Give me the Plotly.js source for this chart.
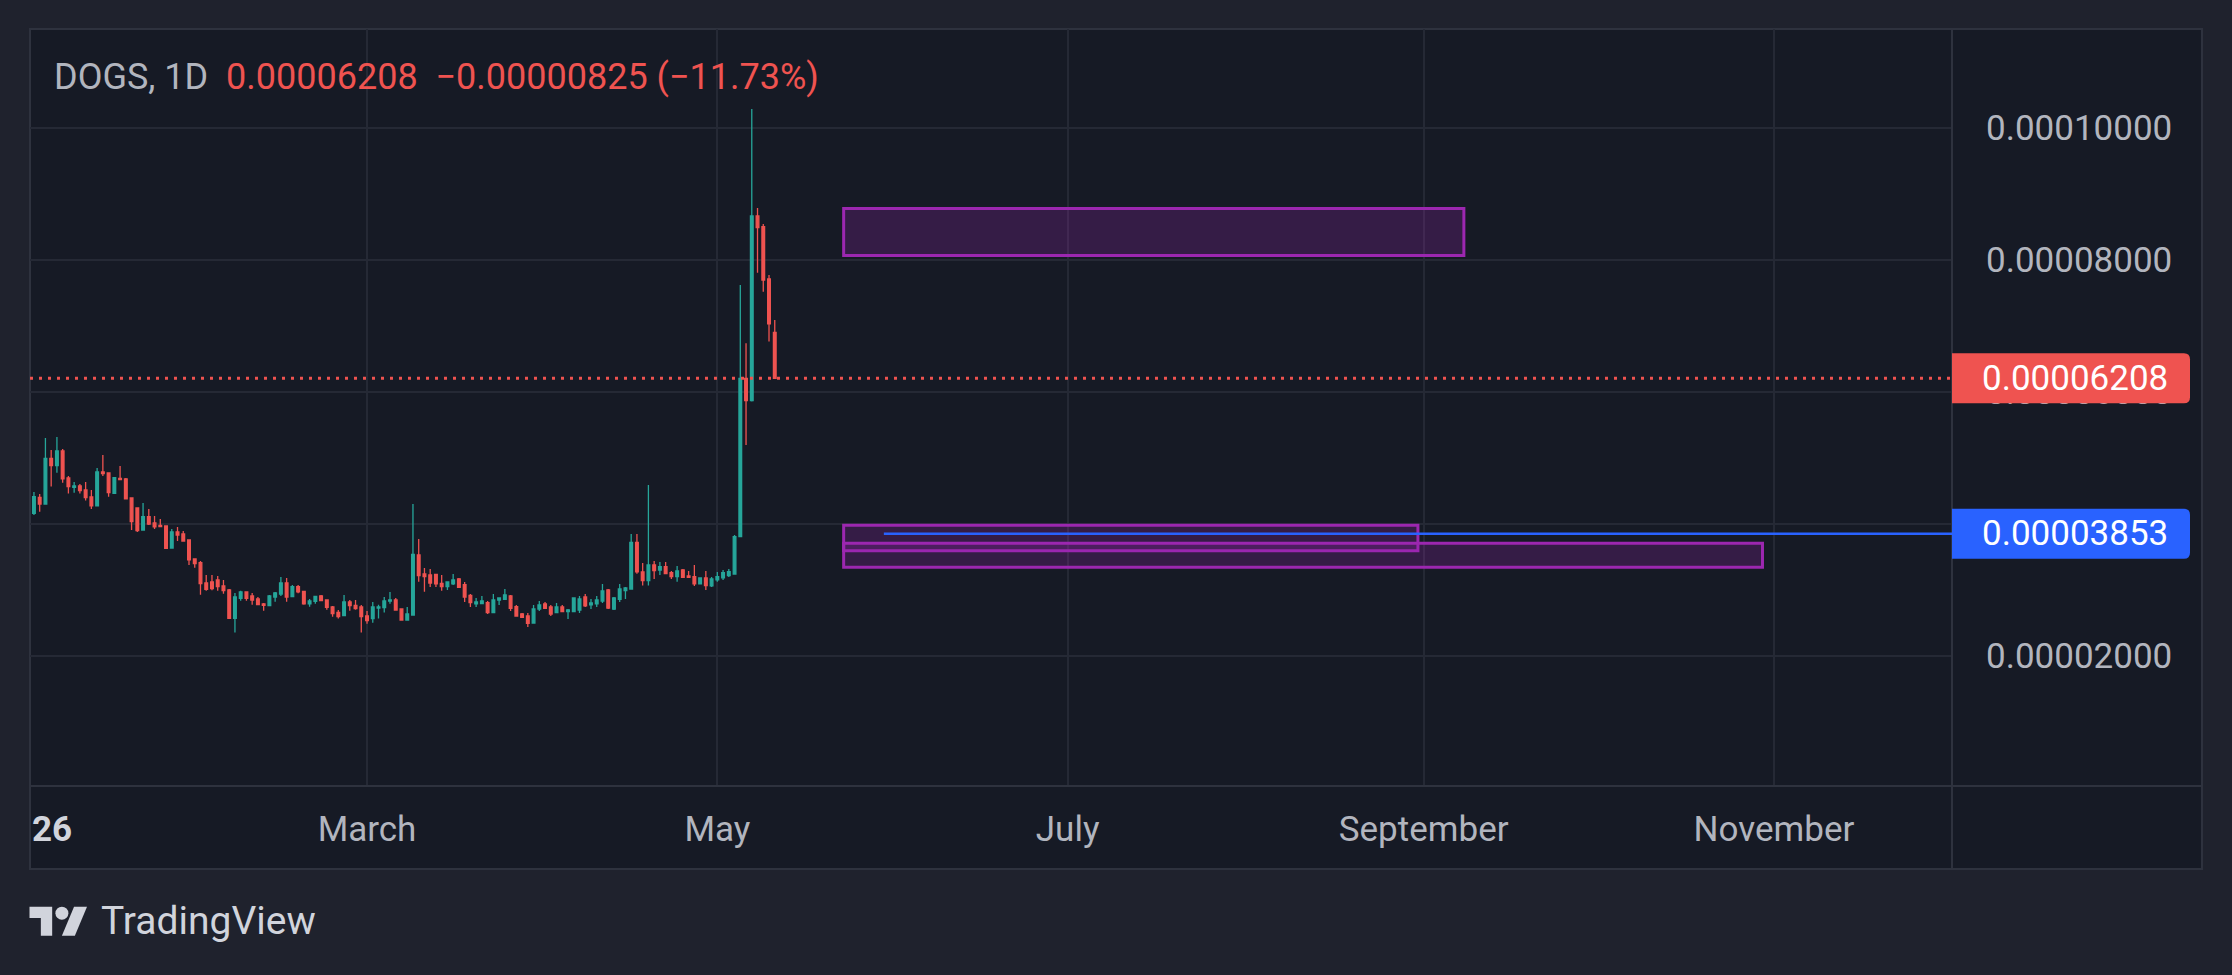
<!DOCTYPE html>
<html>
<head>
<meta charset="utf-8">
<script src="https://cdn.plot.ly/plotly-3.0.1.min.js"></script>
<style>
html,body{margin:0;padding:0;background:#1f222d;overflow:hidden}
#chart{width:2232px;height:975px}
</style>
</head>
<body>
<div id="chart"></div>
<script>
// ---------------- DATA ----------------
const symbol = 'DOGS';
const interval = '1D';

const dates = [
'2026-01-02','2026-01-03','2026-01-04','2026-01-05','2026-01-06','2026-01-07','2026-01-08','2026-01-09','2026-01-10','2026-01-11',
'2026-01-12','2026-01-13','2026-01-14','2026-01-15','2026-01-16','2026-01-17','2026-01-18','2026-01-19','2026-01-20','2026-01-21',
'2026-01-22','2026-01-23','2026-01-24','2026-01-25','2026-01-26','2026-01-27','2026-01-28','2026-01-29','2026-01-30','2026-01-31',
'2026-02-01','2026-02-02','2026-02-03','2026-02-04','2026-02-05','2026-02-06','2026-02-07','2026-02-08','2026-02-09','2026-02-10',
'2026-02-11','2026-02-12','2026-02-13','2026-02-14','2026-02-15','2026-02-16','2026-02-17','2026-02-18','2026-02-19','2026-02-20',
'2026-02-21','2026-02-22','2026-02-23','2026-02-24','2026-02-25','2026-02-26','2026-02-27','2026-02-28',
'2026-03-01','2026-03-02','2026-03-03','2026-03-04','2026-03-05','2026-03-06','2026-03-07','2026-03-08','2026-03-09','2026-03-10',
'2026-03-11','2026-03-12','2026-03-13','2026-03-14','2026-03-15','2026-03-16','2026-03-17','2026-03-18','2026-03-19','2026-03-20',
'2026-03-21','2026-03-22','2026-03-23','2026-03-24','2026-03-25','2026-03-26','2026-03-27','2026-03-28','2026-03-29','2026-03-30','2026-03-31',
'2026-04-01','2026-04-02','2026-04-03','2026-04-04','2026-04-05','2026-04-06','2026-04-07','2026-04-08','2026-04-09','2026-04-10',
'2026-04-11','2026-04-12','2026-04-13','2026-04-14','2026-04-15','2026-04-16','2026-04-17','2026-04-18','2026-04-19','2026-04-20',
'2026-04-21','2026-04-22','2026-04-23','2026-04-24','2026-04-25','2026-04-26','2026-04-27','2026-04-28','2026-04-29','2026-04-30',
'2026-05-01','2026-05-02','2026-05-03','2026-05-04','2026-05-05','2026-05-06','2026-05-07','2026-05-08','2026-05-09','2026-05-10','2026-05-11'
];

const open = [
4.162e-5,4.404e-5,4.303e-5,4.995e-5,4.884e-5,5.106e-5,4.697e-5,4.556e-5,4.576e-5,4.515e-5,
4.409e-5,4.273e-5,4.788e-5,4.773e-5,4.465e-5,4.692e-5,4.682e-5,4.394e-5,4.242e-5,3.909e-5,
4.111e-5,4.015e-5,3.980e-5,3.970e-5,3.636e-5,3.879e-5,3.848e-5,3.758e-5,3.470e-5,3.414e-5,
3.106e-5,3.121e-5,3.152e-5,3.061e-5,3.000e-5,2.571e-5,2.874e-5,2.970e-5,2.909e-5,2.864e-5,
2.788e-5,2.763e-5,2.894e-5,2.939e-5,3.106e-5,2.899e-5,3.051e-5,2.980e-5,2.788e-5,2.828e-5,
2.909e-5,2.848e-5,2.742e-5,2.662e-5,2.611e-5,2.818e-5,2.768e-5,2.742e-5,
2.606e-5,2.566e-5,2.727e-5,2.732e-5,2.833e-5,2.848e-5,2.712e-5,2.545e-5,2.621e-5,3.530e-5,
3.242e-5,3.227e-5,3.237e-5,3.101e-5,3.051e-5,3.091e-5,3.167e-5,3.081e-5,2.919e-5,2.788e-5,
2.793e-5,2.808e-5,2.657e-5,2.848e-5,2.859e-5,2.909e-5,2.747e-5,2.636e-5,2.606e-5,2.500e-5,2.712e-5,
2.788e-5,2.742e-5,2.657e-5,2.742e-5,2.672e-5,2.672e-5,2.697e-5,2.894e-5,2.773e-5,2.788e-5,
2.833e-5,3.000e-5,2.712e-5,2.859e-5,2.990e-5,3.015e-5,3.722e-5,3.273e-5,3.141e-5,3.379e-5,
3.303e-5,3.354e-5,3.263e-5,3.202e-5,3.303e-5,3.212e-5,3.202e-5,3.091e-5,3.182e-5,3.061e-5,
3.152e-5,3.182e-5,3.217e-5,3.242e-5,3.808e-5,6.207e-5,5.869e-5,8.667e-5,8.505e-5,7.712e-5,6.904e-5
];

const high = [
4.485e-5,4.455e-5,5.303e-5,5.121e-5,5.318e-5,5.136e-5,4.727e-5,4.636e-5,4.606e-5,4.636e-5,
4.515e-5,4.848e-5,5.045e-5,4.773e-5,4.712e-5,4.879e-5,4.697e-5,4.394e-5,4.242e-5,4.318e-5,
4.227e-5,4.121e-5,4.076e-5,3.970e-5,3.924e-5,3.955e-5,3.894e-5,3.758e-5,3.470e-5,3.439e-5,
3.227e-5,3.227e-5,3.212e-5,3.152e-5,3.015e-5,2.955e-5,2.990e-5,2.970e-5,2.955e-5,2.894e-5,
2.803e-5,2.924e-5,2.970e-5,3.197e-5,3.182e-5,3.076e-5,3.076e-5,2.985e-5,2.864e-5,2.909e-5,
2.924e-5,2.848e-5,2.758e-5,2.697e-5,2.924e-5,2.848e-5,2.848e-5,2.773e-5,
2.682e-5,2.818e-5,2.778e-5,2.894e-5,2.970e-5,2.879e-5,2.712e-5,2.742e-5,4.303e-5,3.773e-5,
3.333e-5,3.318e-5,3.237e-5,3.227e-5,3.121e-5,3.242e-5,3.182e-5,3.121e-5,2.939e-5,2.879e-5,
2.909e-5,2.833e-5,2.939e-5,2.879e-5,3.015e-5,2.924e-5,2.773e-5,2.652e-5,2.652e-5,2.773e-5,2.833e-5,
2.818e-5,2.773e-5,2.803e-5,2.773e-5,2.712e-5,2.879e-5,2.909e-5,2.939e-5,2.864e-5,2.909e-5,
3.091e-5,3.015e-5,2.894e-5,3.091e-5,3.045e-5,3.848e-5,3.848e-5,3.409e-5,4.591e-5,3.439e-5,
3.424e-5,3.424e-5,3.288e-5,3.364e-5,3.318e-5,3.288e-5,3.379e-5,3.182e-5,3.288e-5,3.197e-5,
3.273e-5,3.303e-5,3.318e-5,3.833e-5,7.621e-5,6.737e-5,10.288e-5,8.788e-5,8.545e-5,7.773e-5,7.091e-5
];

const low = [
4.136e-5,4.187e-5,4.303e-5,4.566e-5,4.778e-5,4.626e-5,4.460e-5,4.475e-5,4.460e-5,4.354e-5,
4.227e-5,4.273e-5,4.727e-5,4.414e-5,4.455e-5,4.667e-5,4.379e-5,3.909e-5,3.879e-5,3.909e-5,
3.985e-5,3.924e-5,3.960e-5,3.621e-5,3.636e-5,3.742e-5,3.732e-5,3.379e-5,3.338e-5,2.929e-5,
2.990e-5,2.995e-5,2.990e-5,2.944e-5,2.561e-5,2.354e-5,2.838e-5,2.838e-5,2.778e-5,2.778e-5,
2.687e-5,2.763e-5,2.823e-5,2.909e-5,2.823e-5,2.899e-5,2.949e-5,2.778e-5,2.747e-5,2.793e-5,
2.838e-5,2.702e-5,2.596e-5,2.566e-5,2.611e-5,2.687e-5,2.702e-5,2.354e-5,
2.490e-5,2.505e-5,2.566e-5,2.657e-5,2.793e-5,2.687e-5,2.545e-5,2.545e-5,2.621e-5,3.126e-5,
2.975e-5,3.045e-5,3.045e-5,2.990e-5,3.000e-5,3.076e-5,3.030e-5,2.818e-5,2.742e-5,2.742e-5,
2.793e-5,2.636e-5,2.657e-5,2.773e-5,2.859e-5,2.682e-5,2.606e-5,2.586e-5,2.439e-5,2.500e-5,2.682e-5,
2.712e-5,2.606e-5,2.657e-5,2.672e-5,2.561e-5,2.672e-5,2.652e-5,2.742e-5,2.712e-5,2.742e-5,
2.803e-5,2.712e-5,2.697e-5,2.818e-5,2.864e-5,3.005e-5,3.247e-5,3.066e-5,3.066e-5,3.167e-5,
3.227e-5,3.247e-5,3.167e-5,3.126e-5,3.182e-5,3.182e-5,3.061e-5,3.091e-5,3.000e-5,3.045e-5,
3.126e-5,3.152e-5,3.197e-5,3.232e-5,3.808e-5,5.197e-5,5.854e-5,7.808e-5,7.520e-5,6.763e-5,6.207e-5
];

const close = [
4.414e-5,4.303e-5,4.995e-5,4.884e-5,5.106e-5,4.682e-5,4.566e-5,4.576e-5,4.505e-5,4.399e-5,
4.273e-5,4.788e-5,4.763e-5,4.475e-5,4.702e-5,4.672e-5,4.379e-5,4.035e-5,3.899e-5,4.111e-5,
4.000e-5,3.955e-5,3.960e-5,3.631e-5,3.879e-5,3.833e-5,3.742e-5,3.455e-5,3.399e-5,3.096e-5,
3.010e-5,3.020e-5,3.051e-5,2.990e-5,2.571e-5,2.894e-5,2.970e-5,2.874e-5,2.848e-5,2.778e-5,
2.768e-5,2.909e-5,2.955e-5,3.106e-5,2.894e-5,3.051e-5,2.970e-5,2.788e-5,2.833e-5,2.904e-5,
2.838e-5,2.737e-5,2.641e-5,2.596e-5,2.818e-5,2.763e-5,2.717e-5,2.596e-5,
2.535e-5,2.742e-5,2.742e-5,2.833e-5,2.848e-5,2.697e-5,2.545e-5,2.636e-5,3.540e-5,3.217e-5,
3.202e-5,3.106e-5,3.091e-5,3.051e-5,3.121e-5,3.152e-5,3.040e-5,2.894e-5,2.808e-5,2.818e-5,
2.833e-5,2.657e-5,2.848e-5,2.879e-5,2.924e-5,2.722e-5,2.606e-5,2.586e-5,2.495e-5,2.712e-5,2.773e-5,
2.722e-5,2.636e-5,2.742e-5,2.672e-5,2.697e-5,2.879e-5,2.864e-5,2.758e-5,2.803e-5,2.848e-5,
2.985e-5,2.727e-5,2.879e-5,3.015e-5,3.030e-5,3.722e-5,3.273e-5,3.141e-5,3.379e-5,3.293e-5,
3.354e-5,3.247e-5,3.202e-5,3.288e-5,3.192e-5,3.192e-5,3.091e-5,3.182e-5,3.066e-5,3.167e-5,
3.202e-5,3.263e-5,3.278e-5,3.808e-5,6.207e-5,5.869e-5,8.667e-5,8.490e-5,7.697e-5,7.033e-5,6.208e-5
];

// drawn zones (rectangles) and horizontal alert line
const zoneStart = ['2026-05-23','2026-05-23','2026-05-23'];
const zoneEnd   = ['2026-09-08','2026-08-31','2026-10-30'];
const zoneTop   = [8.780e-5, 3.980e-5, 3.708e-5];
const zoneBottom= [8.068e-5, 3.595e-5, 3.344e-5];
const alertStart = '2026-05-30';
const alertPrice = 3.853e-5;

// axis ticks
const xTickVals = ['2026-03-01','2026-05-01','2026-07-01','2026-09-01','2026-11-01'];
const xTickText = ['March','May','July','September','November'];
const yearLabel = '26';
const yTickVals = [2e-5, 4e-5, 6e-5, 8e-5, 10e-5];

// ---------------- STYLE / LAYOUT ----------------
const W = 2232, H = 975;
const L = 30, R = 1952, T = 29, B = 786;
const PW = R - L, PH = B - T;
const xRange = ['2026-01-01 07:30', '2026-12-02 00:00'];
const dataPerPx = 1 / 6.6e6;
const yRange = [0.0000003, 0.0000003 + PH * dataPerPx];

const UP = '#26a69a', DOWN = '#ef5350', BLUE = '#2962ff', PURPLE = '#9c27b0';
const TXT = '#b2b5be', FONT = 'Roboto, "Noto Sans", sans-serif';
const GRID = '#252935', BORDER = '#2e323e', PANE = '#161a25';

const px = x => (x - L) / PW;
const py = y => (B - y) / PH;
const f10 = v => v.toFixed(10);

const last = close[close.length - 1];
const prev = close[close.length - 2];
const chg = last - prev;
const pct = chg / prev * 100;
const minus = '\u2212';
const fmt8 = v => (v < 0 ? minus : '') + Math.abs(v).toFixed(8);
const fmtPct = v => (v < 0 ? minus : '') + Math.abs(v).toFixed(2) + '%';

const trace = {
  type: 'candlestick',
  x: dates, open: open, high: high, low: low, close: close,
  increasing: {line: {color: UP, width: 1.3}, fillcolor: UP},
  decreasing: {line: {color: DOWN, width: 1.3}, fillcolor: DOWN},
  whiskerwidth: 0,
  hoverinfo: 'skip',
  showlegend: false
};

const shapes = [];
// pane background and borders
shapes.push({type:'rect', xref:'paper', yref:'paper', x0:px(30), x1:px(2202), y0:py(869), y1:py(29),
  fillcolor: PANE, line:{color: BORDER, width: 2}, layer:'below'});
shapes.push({type:'line', xref:'paper', yref:'paper', x0:px(1952), x1:px(1952), y0:py(869), y1:py(29),
  line:{color: BORDER, width: 2}, layer:'above'});
shapes.push({type:'line', xref:'paper', yref:'paper', x0:px(30), x1:px(2202), y0:py(786), y1:py(786),
  line:{color: BORDER, width: 2}, layer:'above'});

// zones
for (let i = 0; i < zoneStart.length; i++) {
  shapes.push({type:'rect', xref:'x', yref:'y', x0: zoneStart[i], x1: zoneEnd[i], y0: zoneBottom[i], y1: zoneTop[i],
    fillcolor:'rgba(156,39,176,0.24)', line:{color: PURPLE, width: 3}, layer:'above'});
}
// alert line
shapes.push({type:'line', xref:'x', yref:'y', x0: alertStart, x1: xRange[1], y0: alertPrice, y1: alertPrice,
  line:{color: BLUE, width: 2.5}, layer:'above'});
// last price dotted line
shapes.push({type:'line', xref:'paper', yref:'y', x0: 0, x1: 1, y0: last, y1: last,
  line:{color: DOWN, width: 3, dash:'3px,6px'}, layer:'above'});

// price tags (rounded right corners)
function tag(price, color) {
  const hh = 25 * dataPerPx, ry = 6 * dataPerPx;
  const x0 = px(1952), x1 = px(2190), rx = 6 / PW;
  const t = price + hh, b = price - hh;
  const path = `M${x0},${f10(t)} L${x1 - rx},${f10(t)} Q${x1},${f10(t)} ${x1},${f10(t - ry)} ` +
               `L${x1},${f10(b + ry)} Q${x1},${f10(b)} ${x1 - rx},${f10(b)} L${x0},${f10(b)} Z`;
  shapes.push({type:'path', xref:'paper', yref:'y', path: path, fillcolor: color, line:{width:0}, layer:'above'});
}
tag(last, DOWN);
tag(alertPrice, BLUE);

// TradingView logo
const lo = {x: 29.5, y: 900.2, s: 1.62};
const LX = u => px(lo.x + u * lo.s), LY = v => py(lo.y + v * lo.s);
const poly = pts => 'M' + pts.map(p => LX(p[0]) + ',' + LY(p[1])).join(' L') + ' Z';
shapes.push({type:'path', xref:'paper', yref:'paper', path: poly([[14,22],[7,22],[7,11],[0,11],[0,4],[14,4]]),
  fillcolor:'#d1d4dc', line:{width:0}});
shapes.push({type:'path', xref:'paper', yref:'paper', path: poly([[28,22],[20,22],[27.5,4],[35.5,4]]),
  fillcolor:'#d1d4dc', line:{width:0}});
shapes.push({type:'circle', xref:'paper', yref:'paper', x0: LX(16), x1: LX(24), y0: LY(12), y1: LY(4),
  fillcolor:'#d1d4dc', line:{width:0}});

const annotations = [
  {xref:'paper', yref:'paper', x: px(52), y: py(77), xanchor:'left', yanchor:'middle', showarrow:false,
   text: symbol + ', ' + interval + '\u00A0\u00A0<span style="color:' + DOWN + '">' + fmt8(last) + '\u00A0\u00A0' +
         fmt8(chg) + '\u00A0(' + fmtPct(pct) + ')</span>',
   font:{family: FONT, size: 36, color: TXT}},
  {xref:'paper', yref:'y', x: px(2170), y: last, xanchor:'right', yanchor:'middle', showarrow:false,
   text: last.toFixed(8), font:{family: FONT, size: 35, color:'#ffffff'}},
  {xref:'paper', yref:'y', x: px(2170), y: alertPrice, xanchor:'right', yanchor:'middle', showarrow:false,
   text: alertPrice.toFixed(8), font:{family: FONT, size: 35, color:'#ffffff'}},
  {xref:'paper', yref:'paper', x: px(30), y: py(829), xanchor:'left', yanchor:'middle', showarrow:false,
   text: '<b>' + yearLabel + '</b>', font:{family: FONT, size: 35, color:'#d1d4dc'}},
  {xref:'paper', yref:'paper', x: px(99), y: py(921), xanchor:'left', yanchor:'middle', showarrow:false,
   text: 'TradingView', font:{family: FONT, size: 39, color:'#d1d4dc'}}
];

const layout = {
  width: W, height: H,
  margin: {l: L, r: W - R, t: T, b: H - B, pad: 0},
  paper_bgcolor: '#1f222d',
  plot_bgcolor: PANE,
  showlegend: false,
  hovermode: false,
  dragmode: false,
  boxgap: 0.33,
  xaxis: {
    type: 'date', range: xRange, fixedrange: true,
    rangeslider: {visible: false},
    tickmode: 'array', tickvals: xTickVals, ticktext: xTickText,
    showgrid: true, gridcolor: GRID, gridwidth: 2,
    ticks: 'outside', ticklen: 12, tickcolor: 'rgba(0,0,0,0)',
    tickfont: {family: FONT, size: 35, color: TXT},
    showline: false, zeroline: false
  },
  yaxis: {
    side: 'right', range: yRange, fixedrange: true,
    tickmode: 'array', tickvals: yTickVals, ticktext: yTickVals.map(v => v.toFixed(8)),
    showgrid: true, gridcolor: GRID, gridwidth: 2,
    ticks: 'outside', ticklen: 26, tickcolor: 'rgba(0,0,0,0)',
    tickfont: {family: FONT, size: 35, color: TXT},
    showline: false, zeroline: false
  },
  shapes: shapes,
  annotations: annotations
};

Plotly.newPlot('chart', [trace], layout, {staticPlot: true, displayModeBar: false});
</script>
</body>
</html>
